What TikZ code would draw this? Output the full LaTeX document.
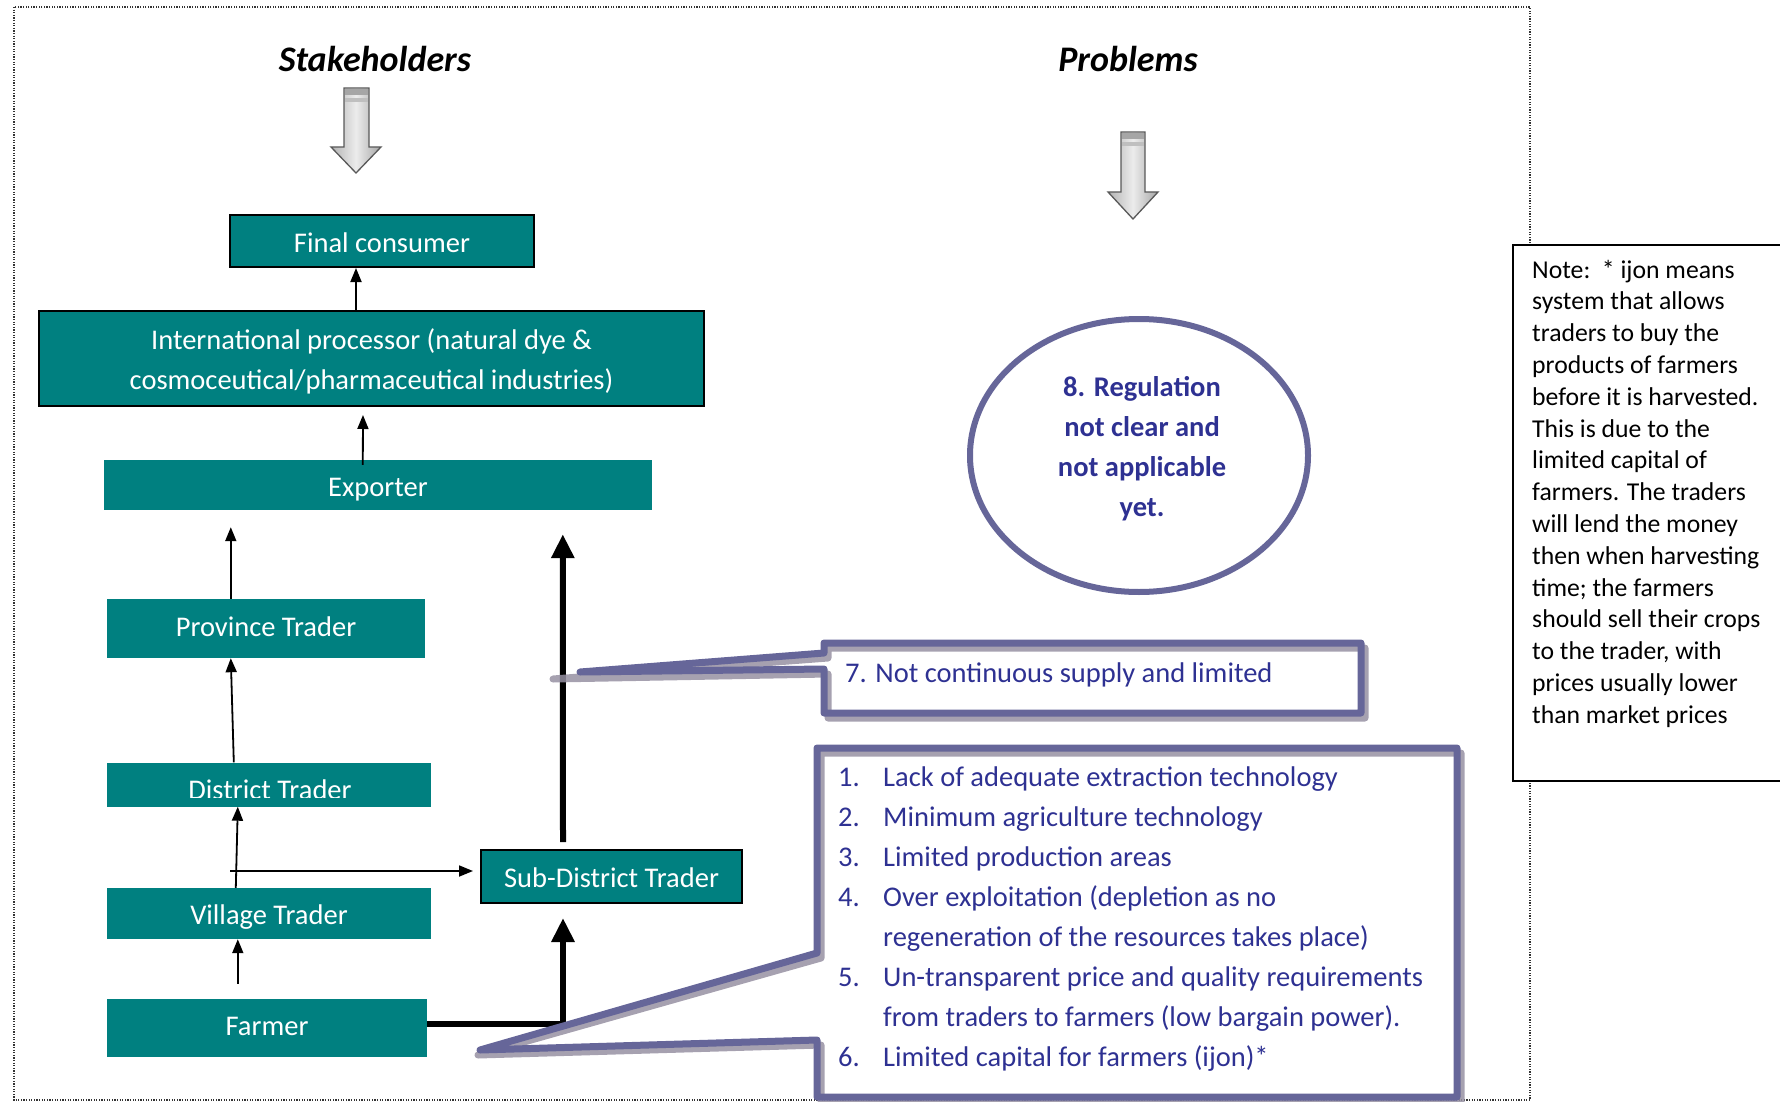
\documentclass[tikz,border=0pt]{standalone}
\usepackage{fontspec}
\setmainfont{Carlito}
\usetikzlibrary{arrows.meta,shapes.geometric}
\definecolor{tealbox}{RGB}{0,128,128}
\definecolor{callblue}{RGB}{102,102,153}
\definecolor{txtblue}{RGB}{46,49,146}
\definecolor{shadowgray}{RGB}{150,144,162}
\newcommand{\bodyfont}{\fontsize{28.5}{40}\selectfont}
\newcommand{\notefont}{\fontsize{25.7}{31.8}\selectfont}
\begin{document}
\begin{tikzpicture}[x=1pt,y=-1pt,
  tbox/.style={fill=tealbox, text=white, font=\bodyfont, inner sep=0pt, align=center},
  onebox/.style={tbox, text height=24pt, text depth=2pt},
  bbox/.style={draw=black, line width=2pt},
  thinarrow/.style={line width=1.8pt, -{Triangle[length=14pt,width=11pt]}},
  thickarrow/.style={line width=6pt, line join=miter, -{Triangle[length=24pt,width=22pt]}},
  callline/.style={draw=callblue, line width=7pt, line join=round},
  callshadow/.style={draw=shadowgray, line width=7pt, line join=round, opacity=0.85},
  bluetext/.style={text=txtblue, font=\bodyfont, inner sep=0pt, anchor=base west},
  notetext/.style={text=black, font=\notefont, inner sep=0pt, anchor=base west},
  headingtext/.style={font=\fontsize{36}{40}\selectfont\bfseries\itshape, inner sep=0pt, anchor=base},
  blockarrow/.style={left color=gray!60, right color=gray!70, middle color=gray!15, draw=gray!70!black, line width=1.3pt},
]
\useasboundingbox (0,0) rectangle (1780,1102);

% outer dotted frame
\draw[line width=1.2pt, black!80, dash pattern=on 1.2pt off 1.4pt] (14,7) rectangle (1530,1100);

% headings
\node[headingtext] (sh) at (375,72) {Stakeholders};
\node[headingtext] (pr) at (1128,72) {Problems};

% grey block arrows
\path[blockarrow] (344,88) -- (369,88) -- (369,147) -- (381,147) -- (356,173) -- (331,147) -- (344,147) -- cycle;
\fill[gray!70] (344.7,88.7) rectangle (368.3,95);
\fill[gray!50] (344.7,98) rectangle (368.3,102);
\path[blockarrow] (1121,132) -- (1145,132) -- (1145,192) -- (1158,192) -- (1133,219) -- (1108,192) -- (1121,192) -- cycle;
\fill[gray!70] (1121.7,132.7) rectangle (1144.3,139);
\fill[gray!50] (1121.7,142) rectangle (1144.3,146);

% stakeholder boxes
\node[onebox, bbox, minimum width=304pt, minimum height=52pt] (fc) at (382,241) {Final consumer};
\node[tbox, bbox, minimum width=665pt, minimum height=95pt] (proc) at (371.5,358.5) {};
\node[text=white, font=\bodyfont, align=center, inner sep=0pt] (proctxt) at (371.5,361.5) {International processor (natural dye \&\\cosmoceutical/pharmaceutical industries)};
\node[onebox, minimum width=548pt, minimum height=50pt] (exp) at (378,485) {Exporter};
\node[onebox, text height=17.2pt, minimum width=318pt, minimum height=59pt] (prov) at (266,628.5) {Province Trader};
\node[tbox, minimum width=324pt, minimum height=44pt] (dist) at (269,784.5) {};
\begin{scope}
  \clip (107,763) rectangle (431,797);
  \node[text=white, font=\bodyfont, inner sep=0pt, anchor=base] (disttxt) at (270,799) {District Trader};
\end{scope}
\node[onebox, minimum width=324pt, minimum height=51pt] (vill) at (269,913.5) {Village Trader};
\node[onebox, text height=17.2pt, minimum width=320pt, minimum height=58pt] (farm) at (267,1028) {Farmer};
\node[onebox, bbox, minimum width=261pt, minimum height=53pt] (sub) at (611.5,876.5) {Sub-District Trader};

% connectors
\draw[thinarrow] ([xshift=318pt]proc.north west) -- ([xshift=127pt]fc.south west);
\draw[thinarrow, shorten >=8pt] ([xshift=259pt,yshift=-5pt]exp.north west) -- ([xshift=325pt]proc.south west);
\draw[thinarrow, shorten >=17pt] ([xshift=124pt]prov.north west) -- ([xshift=127pt]exp.south west);
\draw[thinarrow] ([xshift=127pt]dist.north west) -- ([xshift=124pt]prov.south west);
\draw[thinarrow] ([xshift=129pt]vill.north west) -- ([xshift=131pt]dist.south west);
\coordinate (hstart) at (230,871);
\draw[thinarrow, shorten >=7pt] (hstart) -- (hstart -| sub.west);
\draw[thinarrow] ([xshift=131pt,yshift=15pt]farm.north west) -- ([xshift=131pt]vill.south west);
\draw[thickarrow, shorten >=14pt] ([yshift=4pt]farm.east) -| ([xshift=83pt]sub.south west);
\draw[thickarrow, shorten >=24pt] ([xshift=83pt,yshift=7pt]sub.north west) -- ([xshift=459pt]exp.south west);

% callout 7
\draw[callshadow, shift={(4,5)}] (824,643) -- (1361,643) -- (1361,713) -- (824,713) -- (824,669) -- (549,674) -- (824,653) -- cycle;
\draw[callline] (824,643) -- (1361,643) -- (1361,713) -- (824,713) -- (824,669) -- (580,672) -- (824,653) -- cycle;
\node[bluetext] (p7) at (845,682) {7. Not continuous supply and limited};

% big callout
\draw[callshadow, shift={(4,5)}] (817,748) -- (1457,748) -- (1457,1097) -- (817,1097) -- (817,1040) -- (474,1050) -- (817,953) -- cycle;
\draw[callline] (817,748) -- (1457,748) -- (1457,1097) -- (817,1097) -- (817,1040) -- (480,1050) -- (817,953) -- cycle;
\node[bluetext] (n1) at (838,786) {1.};
\node[bluetext] (t1) at (883,786) {Lack of adequate extraction technology};
\node[bluetext] (n2) at (838,826) {2.};
\node[bluetext] (t2) at (883,826) {Minimum agriculture technology};
\node[bluetext] (n3) at (838,866) {3.};
\node[bluetext] (t3) at (883,866) {Limited production areas};
\node[bluetext] (n4) at (838,906) {4.};
\node[bluetext] (t4) at (883,906) {Over exploitation (depletion as no};
\node[bluetext] (t4b) at (883,946) {regeneration of the resources takes place)};
\node[bluetext] (n5) at (838,986) {5.};
\node[bluetext] (t5) at (883,986) {Un-transparent price and quality requirements};
\node[bluetext] (t5b) at (883,1026) {from traders to farmers (low bargain power).};
\node[bluetext] (n6) at (838,1066) {6.};
\node[bluetext] (t6) at (883,1066) {Limited capital for farmers (ijon)*};

% problem 8 ellipse
\node[ellipse, draw=callblue, line width=6pt, minimum width=338pt, minimum height=273pt, inner sep=0pt] (reg) at (1139,455.5) {};
\node[font=\bodyfont\bfseries, text=txtblue, align=center, inner sep=0pt] (regtxt) at (1142,448.5) {8. Regulation\\not clear and\\not applicable\\yet.};

% note box
\node[draw=black, line width=1.5pt, fill=white, minimum width=278pt, minimum height=536pt, anchor=north west, inner sep=0pt] (notebox) at (1512,244) {};
\foreach \ln [count=\i from 0] in {{Note:\ \ * ijon means}, {system that allows}, {traders to buy the}, {products of farmers}, {before it is harvested.}, {This is due to the}, {limited capital of}, {farmers. The traders}, {will lend the money}, {then when harvesting}, {time; the farmers}, {should sell their crops}, {to the trader, with}, {prices usually lower}, {than market prices}}
  \node[notetext] (note\i) at (1532,278+31.8*\i) {\ln};
\end{tikzpicture}
\end{document}
